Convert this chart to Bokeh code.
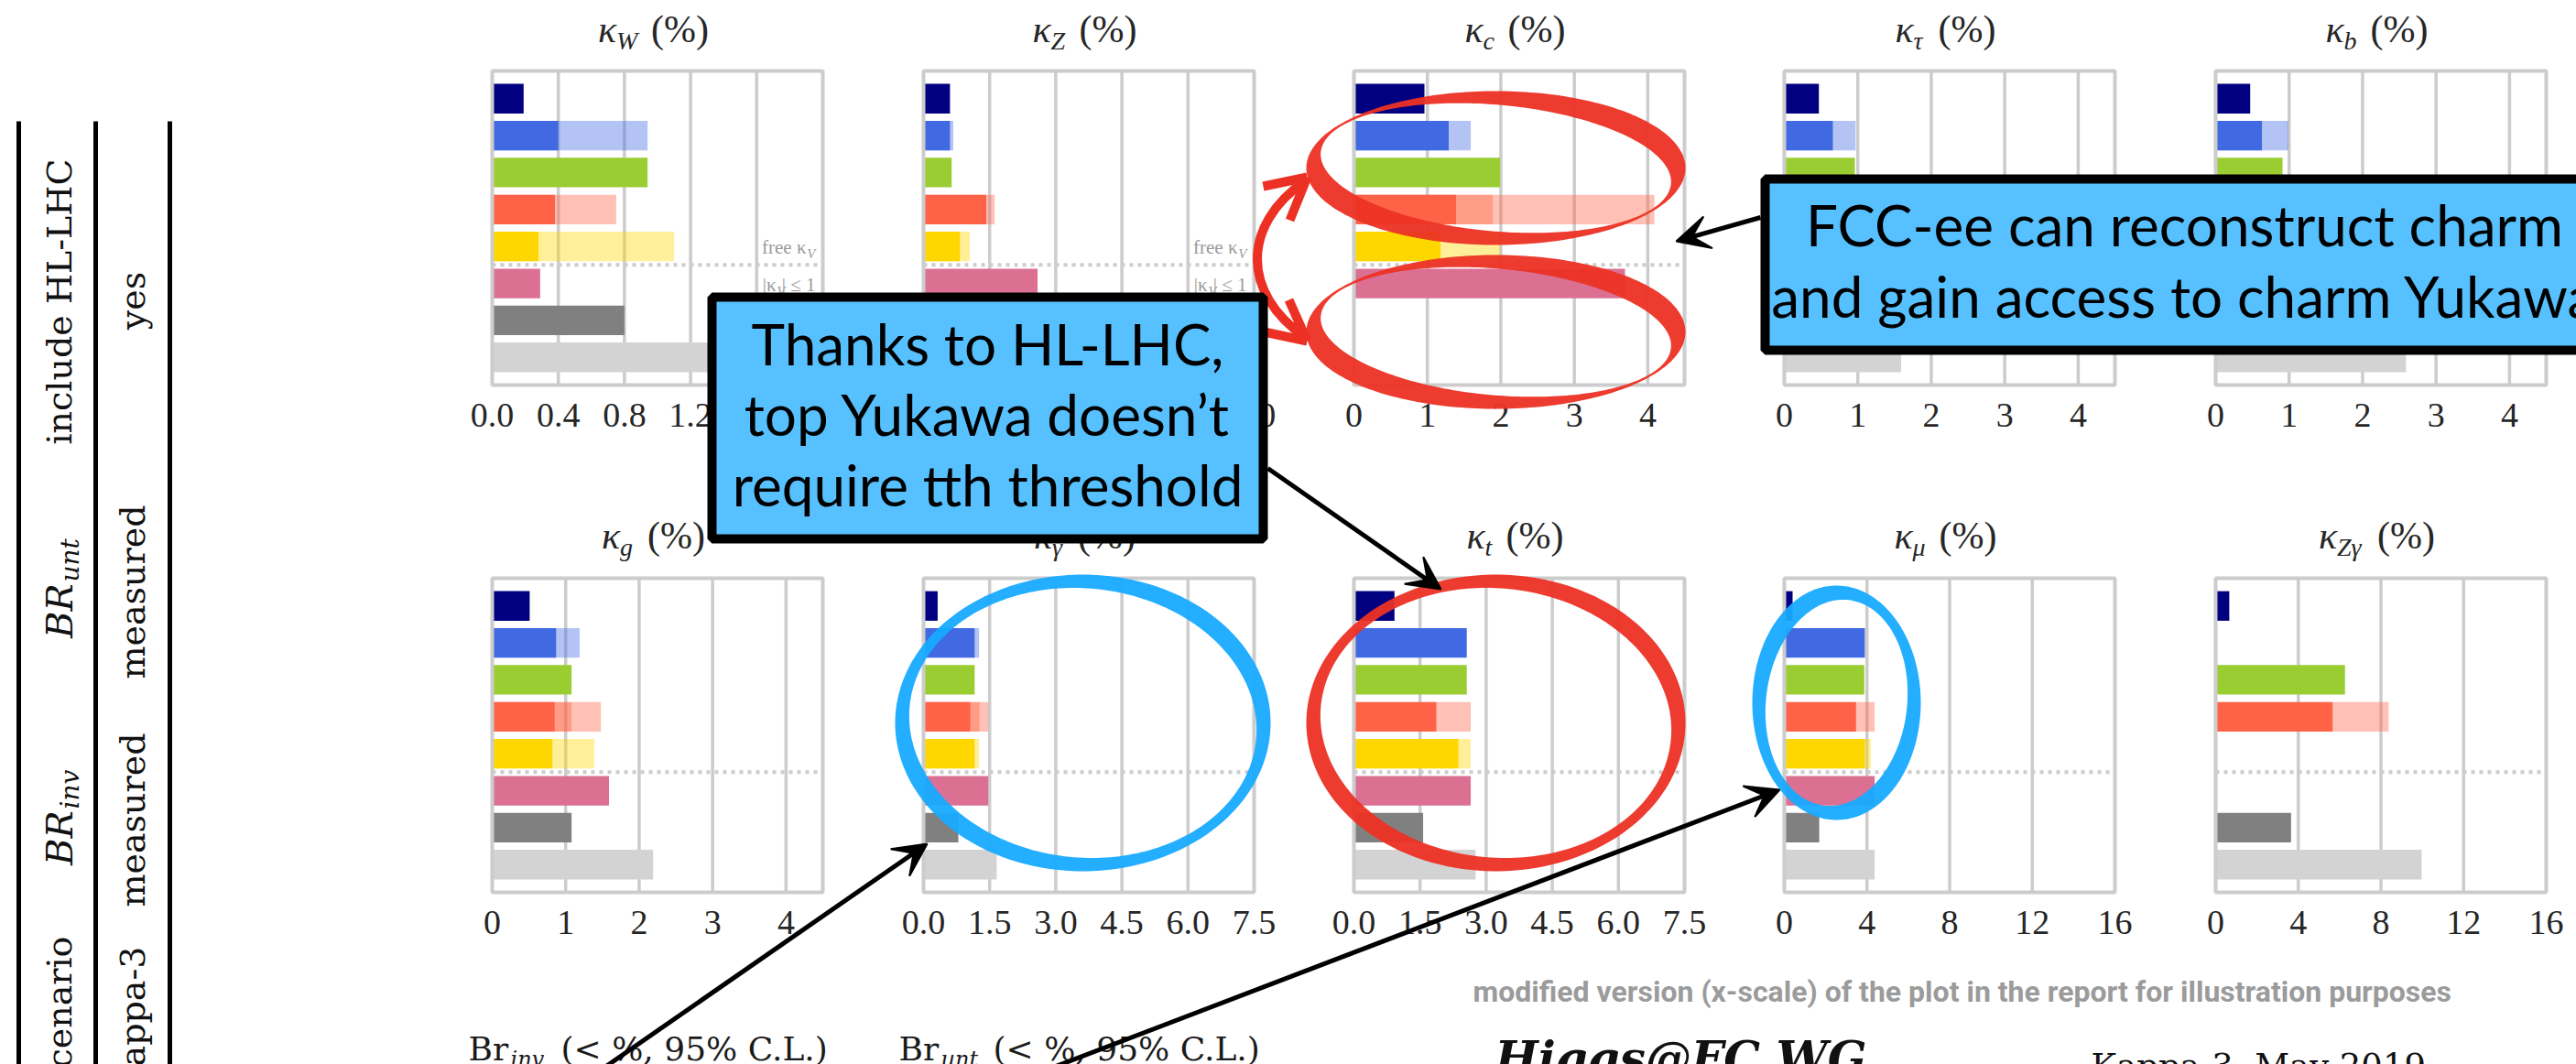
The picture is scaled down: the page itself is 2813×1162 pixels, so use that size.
import numpy as np
from bokeh.plotting import figure
from bokeh.models import Range1d, Arrow, VeeHead
from bokeh.embed import file_html
from bokeh.resources import INLINE
from bokeh.core.properties import value

# ---------------------------------------------------------------------------
# Relative precision (%) of each Higgs coupling, one entry per facility row
# (top to bottom).  "main" = combined bar, "alt"/"alt2" = lighter companion bars.
# ---------------------------------------------------------------------------
row_colors = ["#000080", "#4169e1", "#9acd32", "#ff6347",
              "#ffd700", "#db7093", "#808080", "#d3d3d3"]

kW_main = [0.19, 0.40, 0.94, 0.38, 0.28, 0.29, 0.80, 1.40]
kW_alt = [None, 0.94, None, 0.75, 1.10, None, None, None]
kW_alt2 = [None] * 8

kZ_main = [0.16, 0.16, 0.17, 0.38, 0.22, 0.69, 0.45, 1.20]
kZ_alt = [None, 0.18, None, 0.43, 0.28, None, None, None]
kZ_alt2 = [None] * 8

kc_main = [0.96, 1.29, 1.99, 1.39, 1.18, 3.69, None, None]
kc_alt = [None, 1.59, None, 1.89, 1.99, None, None, None]
kc_alt2 = [None, None, None, 4.09, None, None, None, None]

ktau_main = [0.47, 0.66, 0.96, 0.66, 0.58, 0.95, 1.10, 1.59]
ktau_alt = [None, 0.97, None, 1.25, 0.75, None, None, None]
ktau_alt2 = [None] * 8

kb_main = [0.47, 0.63, 0.91, 0.62, 0.55, 1.05, 1.00, 2.59]
kb_alt = [None, 0.99, None, 1.05, 0.75, None, None, None]
kb_alt2 = [None] * 8

kg_main = [0.51, 0.87, 1.08, 0.85, 0.82, 1.59, 1.08, 2.19]
kg_alt = [None, 1.19, None, 1.08, 1.39, None, None, None]
kg_alt2 = [None, None, None, 1.48, None, None, None, None]

kgam_main = [0.32, 1.16, 1.16, 1.06, 1.16, 1.47, 0.79, 1.66]
kgam_alt = [None, 1.26, None, 1.27, 1.26, None, None, None]
kgam_alt2 = [None, None, None, 1.47, None, None, None, None]

kt_main = [0.92, 2.56, 2.56, 1.87, 2.37, 2.65, 1.57, 2.76]
kt_alt = [None, None, None, 2.65, 2.65, None, None, None]
kt_alt2 = [None] * 8

kmu_main = [0.40, 3.90, 3.87, 3.47, 3.90, 4.37, 1.69, 4.37]
kmu_alt = [None, None, None, 4.37, 4.19, None, None, None]
kmu_alt2 = [None] * 8

kZgam_main = [0.66, None, 6.26, 5.66, None, None, 3.65, 9.97]
kZgam_alt = [None, None, None, 8.37, None, None, None, None]
kZgam_alt2 = [None] * 8

# axis ticks for the four x-scales in use
ticks_a = [0.0, 0.4, 0.8, 1.2, 1.6, 2.0]
labels_a = ["0.0", "0.4", "0.8", "1.2", "1.6", "2.0"]
ticks_b = [0, 1, 2, 3, 4]
labels_b = ["0", "1", "2", "3", "4"]
ticks_c = [0.0, 1.5, 3.0, 4.5, 6.0, 7.5]
labels_c = ["0.0", "1.5", "3.0", "4.5", "6.0", "7.5"]
ticks_d = [0, 4, 8, 12, 16]
labels_d = ["0", "4", "8", "12", "16"]

panels = [
    # subscript, main, alt, alt2, xmax, ticks, labels, column, row
    ("W", kW_main, kW_alt, kW_alt2, 2.0, ticks_a, labels_a, 0, 0),
    ("Z", kZ_main, kZ_alt, kZ_alt2, 2.0, ticks_a, labels_a, 1, 0),
    ("c", kc_main, kc_alt, kc_alt2, 4.5, ticks_b, labels_b, 2, 0),
    ("τ", ktau_main, ktau_alt, ktau_alt2, 4.5, ticks_b, labels_b, 3, 0),
    ("b", kb_main, kb_alt, kb_alt2, 4.5, ticks_b, labels_b, 4, 0),
    ("g", kg_main, kg_alt, kg_alt2, 4.5, ticks_b, labels_b, 0, 1),
    ("γ", kgam_main, kgam_alt, kgam_alt2, 7.5, ticks_c, labels_c, 1, 1),
    ("t", kt_main, kt_alt, kt_alt2, 7.5, ticks_c, labels_c, 2, 1),
    ("μ", kmu_main, kmu_alt, kmu_alt2, 16, ticks_d, labels_d, 3, 1),
    ("Zγ", kZgam_main, kZgam_alt, kZgam_alt2, 16, ticks_d, labels_d, 4, 1),
]

# ---------------------------------------------------------------------------
# canvas in pixel units (y grows downwards)
# ---------------------------------------------------------------------------
W, H = 2813, 1162
p = figure(width=W, height=H, x_range=Range1d(0, W), y_range=Range1d(H, 0),
           x_axis_type=None, y_axis_type=None, output_backend="svg",
           toolbar_location=None, min_border=0, outline_line_color=None,
           background_fill_color="white", border_fill_color="white")

SERIF = value("Liberation Serif")
WIDE_SERIF = value("DejaVu Serif")
SANS = value("Lato")
FRAME = "#cccccc"
INK = "#262626"

# baseline corrections (fraction of font size) per family
K_SERIF, K_WIDE, K_SANS, K_FOOT = 0.31, 0.35, 0.45, 0.30


def fs(px):
    return f"{px}px"


col_left = [537, 1008, 1478, 1948, 2419]
panel_w = 361
row_span = [(77, 420), (631, 974)]
title_base = [45, 598]
sub_w = {"W": 23, "Z": 16, "c": 12, "τ": 12, "b": 14, "g": 15,
         "γ": 13, "t": 8, "μ": 14, "Zγ": 29}
tick_dy = 38 * K_SERIF / 40.3  # in row units

for sub, main, alt, alt2, xmax, ticks, labels, col, row in panels:
    left = col_left[col]
    top, bottom = row_span[row]
    sp = p.subplot(x_source=Range1d(0, xmax), y_source=Range1d(-0.75, 7.75),
                   x_target=Range1d(left, left + panel_w),
                   y_target=Range1d(top, bottom))
    inner = [t for t in ticks if 0 < t < xmax]
    sp.segment(x0=inner, y0=-0.75, x1=inner, y1=7.75,
               line_color=FRAME, line_width=3.5)
    sp.segment(x0=[0], y0=[4.5], x1=[xmax], y1=[4.5], line_color=FRAME,
               line_width=4, line_dash="4 5")
    for vals, alpha in ((alt2, 0.4), (alt, 0.4), (main, 1.0)):
        idx = [i for i, v in enumerate(vals) if v is not None]
        if not idx:
            continue
        sp.hbar(y=idx, left=0, right=[vals[i] for i in idx], height=0.8,
                fill_color=[row_colors[i] for i in idx], fill_alpha=alpha,
                line_color=None)
    sp.quad(left=[0], right=[xmax], top=[-0.75], bottom=[7.75],
            fill_color=None, line_color=FRAME, line_width=4)
    sp.text(x=ticks, y=8.85 - tick_dy, text=labels, text_align="center",
            text_baseline="alphabetic", text_font=SERIF,
            text_font_size=fs(38), text_color=INK)

    # panel title  κ_x (%)
    cx = left + panel_w / 2 - 4
    sw = sub_w[sub]
    total = 21 + sw + 14 + 64
    x0 = cx - total / 2
    tb = title_base[row] - 42 * K_SERIF
    p.text(x=[x0], y=[tb], text=["κ"], text_font=SERIF, text_font_style="italic",
           text_font_size=fs(42), text_color=INK, text_baseline="alphabetic")
    p.text(x=[x0 + 20], y=[tb + 8 + (42 - 28) * K_SERIF], text=[sub], text_font=SERIF,
           text_font_style="italic", text_font_size=fs(28), text_color=INK,
           text_baseline="alphabetic")
    p.text(x=[x0 + 21 + sw + 14], y=[tb], text=["(%)"], text_font=SERIF,
           text_font_size=fs(42), text_color=INK, text_baseline="alphabetic")

    # region tags above / below the dotted separator
    if row == 0 and col < 2:
        xe = left + panel_w - 8
        kw = dict(text_font=SERIF, text_color="#9a9a9a", text_baseline="alphabetic")
        s21, s15 = 21 * K_SERIF, 15 * K_SERIF
        p.text(x=[xe], y=[281 - s15], text=["V"], text_align="right",
               text_font_size=fs(15), text_font_style="italic", **kw)
        p.text(x=[xe - 10], y=[276 - s21], text=["free κ"], text_align="right",
               text_font_size=fs(21), **kw)
        p.text(x=[xe], y=[317 - s21], text=["| ≤ 1"], text_align="right",
               text_font_size=fs(21), **kw)
        p.text(x=[xe - 33], y=[322 - s15], text=["V"], text_align="right",
               text_font_size=fs(15), text_font_style="italic", **kw)
        p.text(x=[xe - 43], y=[317 - s21], text=["|κ"], text_align="right",
               text_font_size=fs(21), **kw)

# ---------------------------------------------------------------------------
# scenario table on the left (rotated, reading upwards)
# ---------------------------------------------------------------------------
p.segment(x0=[20, 104, 185], y0=132, x1=[20, 104, 185], y1=H,
          line_color="black", line_width=5)
rot = np.pi / 2
tbl = dict(angle=rot, text_baseline="alphabetic", text_color="#111111",
           text_font=WIDE_SERIF)
c1 = 78 - 38 * K_WIDE
c2 = 158 - 38 * K_WIDE
p.text(x=[c1], y=[329], text=["include HL-LHC"], text_align="center",
       text_font_size=fs(38), **tbl)
p.text(x=[c2], y=[328], text=["yes"], text_align="center",
       text_font_size=fs(38), **tbl)
p.text(x=[78 - 40 * K_WIDE] * 2, y=[637, 885], text=["BR", "BR"], text_align="right",
       text_font_style="italic", text_font_size=fs(40), **tbl)
p.text(x=[86 - 28 * K_WIDE] * 2, y=[635, 883], text=["unt", "inv"], text_align="left",
       text_font_style="italic", text_font_size=fs(28), **tbl)
p.text(x=[c2, c2], y=[646, 895], text=["measured", "measured"],
       text_align="center", text_font_size=fs(38), **tbl)
p.text(x=[c1, c2], y=[1022, 1033], text=["scenario", "kappa-3"],
       text_align="right", text_font_size=fs(38), **tbl)

# ---------------------------------------------------------------------------
# footer texts
# ---------------------------------------------------------------------------
foot = dict(text_font=WIDE_SERIF, text_color="#1a1a1a", text_baseline="alphabetic")
yb = 1158 - 36 * K_WIDE
p.text(x=[511, 981], y=[yb, yb], text=["Br", "Br"], text_font_size=fs(36), **foot)
p.text(x=[557, 1027], y=[1165 - 24 * K_WIDE] * 2, text=["inv", "unt"],
       text_font_size=fs(24), text_font_style="italic", **foot)
p.text(x=[612, 1084], y=[yb, yb], text=["(< %, 95% C.L.)", "(< %, 95% C.L.)"],
       text_font_size=fs(36), **foot)
p.text(x=[1608], y=[1092 - 32 * K_FOOT],
       text=["modified version (x-scale) of the plot in the report for illustration purposes"],
       text_font=value("Roboto"), text_font_style="bold", text_font_size=fs(32),
       text_color="#9b9b9b", text_baseline="alphabetic")
p.text(x=[1632], y=[1172 - 50 * K_WIDE], text=["Higgs@FC WG"], text_font=WIDE_SERIF,
       text_font_style="bold italic", text_font_size=fs(50), text_color="#111111",
       text_baseline="alphabetic")
p.text(x=[2283], y=[1177 - 37 * K_WIDE], text=["Kappa-3, May 2019"], text_font=WIDE_SERIF,
       text_font_size=fs(37), text_color="#111111", text_baseline="alphabetic")


# ---------------------------------------------------------------------------
# hand-drawn style highlight rings
# ---------------------------------------------------------------------------
def ring(cx, cy, a, b, t, tilt):
    th = np.linspace(0, 2 * np.pi, 241)
    ox = cx + a * np.cos(th)
    oy = cy + b * np.sin(th)
    ix = (a - t) * np.cos(th)
    iy = (b - t) * np.sin(th)
    rx = cx + ix * np.cos(tilt) - iy * np.sin(tilt)
    ry = cy + ix * np.sin(tilt) + iy * np.cos(tilt)
    return [[list(ox), list(rx)]], [[list(oy), list(ry)]]


RED = "#ec3124"
BLUE = "#17aaff"
for (cx, cy, a, b, tilt, col) in [
        (1633, 183, 207, 84, 0.09, RED),
        (1633, 362, 207, 84, 0.09, RED),
        (1633, 789, 207, 162, 0.10, RED),
        (1182, 789, 205, 162, 0.10, BLUE),
        (2005, 767, 92, 128, 0.12, BLUE)]:
    xs, ys = ring(cx, cy, a, b, 15, tilt)
    p.multi_polygons(xs=[xs], ys=[ys], fill_color=col, fill_alpha=0.95,
                     line_color=None)

# curved double arrow linking the two κc rings
p.bezier(x0=[1425], y0=[197], x1=[1425], y1=[368], cx0=[1355], cy0=[245],
         cx1=[1355], cy1=[320], line_color=RED, line_width=10)
p.segment(x0=[1427, 1427, 1427, 1427], y0=[193, 193, 372, 372],
          x1=[1379, 1408, 1380, 1407], y1=[203, 240, 362, 327],
          line_color=RED, line_width=10)

# ---------------------------------------------------------------------------
# callout boxes
# ---------------------------------------------------------------------------
BOXFILL = "#57c0fe"
p.quad(left=[777], right=[1379], top=[324], bottom=[588], fill_color=BOXFILL,
       line_color="black", line_width=10)
p.quad(left=[1927], right=[2950], top=[195], bottom=[382], fill_color=BOXFILL,
       line_color="black", line_width=10)
box_txt = dict(text_font=SANS, text_font_size=fs(62), text_color="black",
               text_align="center", text_baseline="alphabetic")
sb = 62 * K_SANS
p.text(x=[1078, 1078, 1078], y=[402 - sb, 479 - sb, 556 - sb],
       text=["Thanks to HL-LHC,", "top Yukawa doesn’t", "require tth threshold"],
       **box_txt)
p.text(x=[2385, 2385], y=[272 - sb, 350 - sb],
       text=["FCC-ee can reconstruct charm", "and gain access to charm Yukawa"],
       **box_txt)

# pointer arrows
for xs_, ys_, xe_, ye_ in [(1922, 237, 1830, 263), (1384, 511, 1573, 643),
                           (660, 1165, 1012, 921), (1150, 1165, 1943, 862)]:
    p.add_layout(Arrow(end=VeeHead(size=36, fill_color="black", line_color="black",
                                   line_width=2),
                       x_start=xs_, y_start=ys_, x_end=xe_, y_end=ye_,
                       line_color="black", line_width=5))

open("out.html", "w").write(file_html(p, INLINE))
